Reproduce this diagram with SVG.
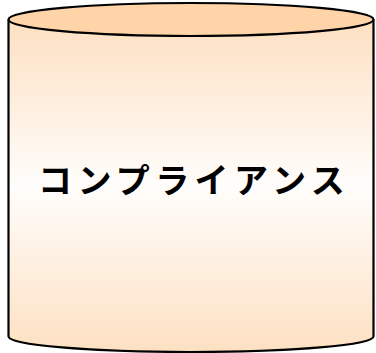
<svg xmlns="http://www.w3.org/2000/svg" width="376" height="353" viewBox="0 0 376 353">
<defs>
<linearGradient id="body" x1="0" y1="0" x2="0" y2="1">
<stop offset="0" stop-color="#fde0c2"/>
<stop offset="0.5" stop-color="#fffdfb"/>
<stop offset="1" stop-color="#fde0c2"/>
</linearGradient>
<style>
.shape{stroke:#000;stroke-width:2.2}
.lbl{font-family:"Noto Sans CJK JP",sans-serif;font-weight:bold;font-size:34px;fill:#000}
</style>
</defs>
<g id="node-compliance">
<path class="shape" d="M8.5 19.5 L8.5 336.5 A182.5 15.5 0 0 0 373.5 336.5 L373.5 19.5" fill="url(#body)"/>
<ellipse class="shape" cx="191" cy="19.5" rx="182.5" ry="16.5" fill="#fed4a8"/>
<text class="lbl" x="38" y="193" letter-spacing="5.4">コンプライアンス</text>
</g>
<g id="connectors"/>
</svg>
